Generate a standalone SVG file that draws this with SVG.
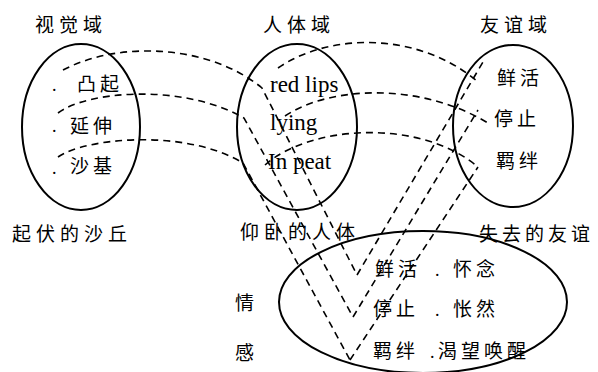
<svg xmlns="http://www.w3.org/2000/svg" width="598" height="372" viewBox="0 0 598 372">
<style>
.bg{fill:#fff}
.dom{fill:none;stroke:#000;stroke-width:2}
.dash{fill:none;stroke:#000;stroke-width:1.6;stroke-dasharray:7 5}
.cj{font-family:"Noto Sans CJK SC",sans-serif;font-size:19px;fill:#000;letter-spacing:4px}
.ti{letter-spacing:5px}
.en{font-family:"Liberation Serif",serif;font-size:23px;fill:#000}
.dot{font-family:"Liberation Serif",serif;font-size:18px;fill:#000}
</style>
<rect class="bg" x="0" y="0" width="598" height="372"/>

<g id="visual-domain">
<ellipse class="dom" cx="81" cy="127" rx="59" ry="83"/>
<text class="cj ti" x="35" y="32">视觉域</text>
<text class="dot" x="52" y="91">.</text>
<text class="cj" x="77" y="91">凸起</text>
<text class="dot" x="52" y="132">.</text>
<text class="cj" x="70" y="133">延伸</text>
<text class="dot" x="52" y="174">.</text>
<text class="cj" x="70" y="173">沙基</text>
<text class="cj ti" x="12" y="241">起伏的沙丘</text>
</g>

<g id="body-domain">
<ellipse class="dom" cx="297" cy="127" rx="60" ry="83"/>
<text class="cj ti" x="263" y="32">人体域</text>
<text class="en" x="270" y="92">red lips</text>
<text class="en" x="270" y="130">lying</text>
<text class="en" x="268" y="169">In peat</text>
<text class="cj ti" x="240" y="239">仰卧的人体</text>
</g>

<g id="friendship-domain">
<ellipse class="dom" cx="513" cy="126" rx="60" ry="81"/>
<text class="cj ti" x="480" y="32">友谊域</text>
<text class="cj" x="497" y="85">鲜活</text>
<text class="cj" x="494" y="126">停止</text>
<text class="cj" x="496" y="168">羁绊</text>
<text class="cj" x="479" y="241">失去的友谊</text>
</g>

<g id="emotion">
<ellipse class="dom" cx="423" cy="302" rx="144" ry="71"/>
<text class="cj" x="235" y="310">情</text>
<text class="cj" x="235" y="360">感</text>
<text class="cj" x="375" y="276">鲜活</text>
<text class="dot" x="435" y="276">.</text>
<text class="cj" x="453" y="276">怀念</text>
<text class="cj" x="373" y="316">停止</text>
<text class="dot" x="435" y="316">.</text>
<text class="cj" x="453" y="316">怅然</text>
<text class="cj" x="373" y="358">羁绊</text>
<text class="dot" x="430" y="358">.</text>
<text class="cj" x="438" y="358">渴望唤醒</text>
</g>

<g id="connectors">
<path class="dash" d="M63,70 C120,40 210,45 262,88 L357,275"/>
<path class="dash" d="M58,113 C85,92 180,82 244,118 L353,317"/>
<path class="dash" d="M58,157 C85,138 185,128 243,163 L350,360"/>
<path class="dash" d="M278,68 C330,32 420,32 478,82"/>
<path class="dash" d="M285,116 C330,86 420,82 488,123"/>
<path class="dash" d="M265,165 C310,125 420,118 478,167"/>
<path class="dash" d="M357,275 L483,62"/>
<path class="dash" d="M353,317 L478,110"/>
<path class="dash" d="M350,360 L478,167"/>
</g>
</svg>
